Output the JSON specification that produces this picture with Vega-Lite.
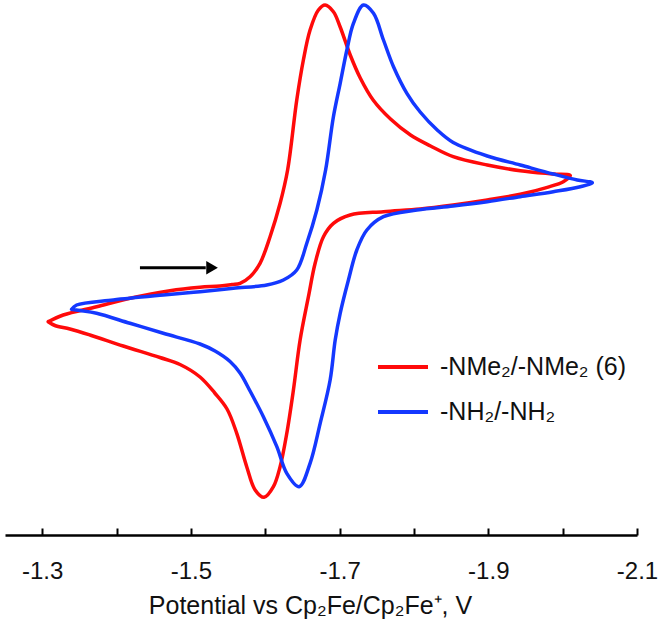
{
  "$schema": "https://vega.github.io/schema/vega-lite/v6.json",
  "width": 632,
  "height": 535,
  "autosize": {"type": "none"},
  "padding": {"left": 5, "top": 0, "right": 23, "bottom": 94},
  "background": "white",
  "config": {"view": {"stroke": null}},
  "datasets": {
    "cv": [
      {"s": "-NMe₂/-NMe₂ (6)", "i": 1, "E": -1.3081, "I": -3.17},
      {"s": "-NMe₂/-NMe₂ (6)", "i": 2, "E": -1.3283, "I": -2.5},
      {"s": "-NMe₂/-NMe₂ (6)", "i": 3, "E": -1.3732, "I": -1.67},
      {"s": "-NMe₂/-NMe₂ (6)", "i": 4, "E": -1.4181, "I": -0.83},
      {"s": "-NMe₂/-NMe₂ (6)", "i": 5, "E": -1.4719, "I": -0.07},
      {"s": "-NMe₂/-NMe₂ (6)", "i": 6, "E": -1.5123, "I": 0.27},
      {"s": "-NMe₂/-NMe₂ (6)", "i": 7, "E": -1.5392, "I": 0.4},
      {"s": "-NMe₂/-NMe₂ (6)", "i": 8, "E": -1.5554, "I": 0.55},
      {"s": "-NMe₂/-NMe₂ (6)", "i": 9, "E": -1.5661, "I": 0.67},
      {"s": "-NMe₂/-NMe₂ (6)", "i": 10, "E": -1.5796, "I": 1.33},
      {"s": "-NMe₂/-NMe₂ (6)", "i": 11, "E": -1.593, "I": 2.67},
      {"s": "-NMe₂/-NMe₂ (6)", "i": 12, "E": -1.6065, "I": 5.33},
      {"s": "-NMe₂/-NMe₂ (6)", "i": 13, "E": -1.62, "I": 8.67},
      {"s": "-NMe₂/-NMe₂ (6)", "i": 14, "E": -1.6301, "I": 12.0},
      {"s": "-NMe₂/-NMe₂ (6)", "i": 15, "E": -1.6424, "I": 19.0},
      {"s": "-NMe₂/-NMe₂ (6)", "i": 16, "E": -1.6513, "I": 23.0},
      {"s": "-NMe₂/-NMe₂ (6)", "i": 17, "E": -1.6603, "I": 26.0},
      {"s": "-NMe₂/-NMe₂ (6)", "i": 18, "E": -1.6715, "I": 28.0},
      {"s": "-NMe₂/-NMe₂ (6)", "i": 19, "E": -1.6805, "I": 28.5},
      {"s": "-NMe₂/-NMe₂ (6)", "i": 20, "E": -1.6917, "I": 27.83},
      {"s": "-NMe₂/-NMe₂ (6)", "i": 21, "E": -1.7008, "I": 26.3},
      {"s": "-NMe₂/-NMe₂ (6)", "i": 22, "E": -1.7143, "I": 23.5},
      {"s": "-NMe₂/-NMe₂ (6)", "i": 23, "E": -1.7278, "I": 21.2},
      {"s": "-NMe₂/-NMe₂ (6)", "i": 24, "E": -1.7451, "I": 19.0},
      {"s": "-NMe₂/-NMe₂ (6)", "i": 25, "E": -1.7685, "I": 17.1},
      {"s": "-NMe₂/-NMe₂ (6)", "i": 26, "E": -1.7954, "I": 15.5},
      {"s": "-NMe₂/-NMe₂ (6)", "i": 27, "E": -1.8223, "I": 14.4},
      {"s": "-NMe₂/-NMe₂ (6)", "i": 28, "E": -1.8528, "I": 13.33},
      {"s": "-NMe₂/-NMe₂ (6)", "i": 29, "E": -1.8986, "I": 12.5},
      {"s": "-NMe₂/-NMe₂ (6)", "i": 30, "E": -1.943, "I": 11.93},
      {"s": "-NMe₂/-NMe₂ (6)", "i": 31, "E": -1.9874, "I": 11.6},
      {"s": "-NMe₂/-NMe₂ (6)", "i": 32, "E": -2.0103, "I": 11.45},
      {"s": "-NMe₂/-NMe₂ (6)", "i": 33, "E": -2.0009, "I": 10.83},
      {"s": "-NMe₂/-NMe₂ (6)", "i": 34, "E": -1.9794, "I": 10.27},
      {"s": "-NMe₂/-NMe₂ (6)", "i": 35, "E": -1.943, "I": 9.57},
      {"s": "-NMe₂/-NMe₂ (6)", "i": 36, "E": -1.8986, "I": 9.0},
      {"s": "-NMe₂/-NMe₂ (6)", "i": 37, "E": -1.8528, "I": 8.5},
      {"s": "-NMe₂/-NMe₂ (6)", "i": 38, "E": -1.8084, "I": 8.1},
      {"s": "-NMe₂/-NMe₂ (6)", "i": 39, "E": -1.759, "I": 7.83},
      {"s": "-NMe₂/-NMe₂ (6)", "i": 40, "E": -1.7142, "I": 7.5},
      {"s": "-NMe₂/-NMe₂ (6)", "i": 41, "E": -1.6917, "I": 6.67},
      {"s": "-NMe₂/-NMe₂ (6)", "i": 42, "E": -1.6783, "I": 5.33},
      {"s": "-NMe₂/-NMe₂ (6)", "i": 43, "E": -1.6671, "I": 2.67},
      {"s": "-NMe₂/-NMe₂ (6)", "i": 44, "E": -1.6581, "I": -0.67},
      {"s": "-NMe₂/-NMe₂ (6)", "i": 45, "E": -1.6469, "I": -5.0},
      {"s": "-NMe₂/-NMe₂ (6)", "i": 46, "E": -1.6379, "I": -10.0},
      {"s": "-NMe₂/-NMe₂ (6)", "i": 47, "E": -1.629, "I": -14.33},
      {"s": "-NMe₂/-NMe₂ (6)", "i": 48, "E": -1.62, "I": -17.67},
      {"s": "-NMe₂/-NMe₂ (6)", "i": 49, "E": -1.611, "I": -19.67},
      {"s": "-NMe₂/-NMe₂ (6)", "i": 50, "E": -1.5985, "I": -20.73},
      {"s": "-NMe₂/-NMe₂ (6)", "i": 51, "E": -1.5864, "I": -20.0},
      {"s": "-NMe₂/-NMe₂ (6)", "i": 52, "E": -1.5751, "I": -17.67},
      {"s": "-NMe₂/-NMe₂ (6)", "i": 53, "E": -1.5617, "I": -14.33},
      {"s": "-NMe₂/-NMe₂ (6)", "i": 54, "E": -1.5486, "I": -11.9},
      {"s": "-NMe₂/-NMe₂ (6)", "i": 55, "E": -1.5321, "I": -10.3},
      {"s": "-NMe₂/-NMe₂ (6)", "i": 56, "E": -1.5123, "I": -8.7},
      {"s": "-NMe₂/-NMe₂ (6)", "i": 57, "E": -1.4854, "I": -7.45},
      {"s": "-NMe₂/-NMe₂ (6)", "i": 58, "E": -1.4584, "I": -6.75},
      {"s": "-NMe₂/-NMe₂ (6)", "i": 59, "E": -1.409, "I": -5.6},
      {"s": "-NMe₂/-NMe₂ (6)", "i": 60, "E": -1.3642, "I": -4.5},
      {"s": "-NMe₂/-NMe₂ (6)", "i": 61, "E": -1.3373, "I": -3.9},
      {"s": "-NMe₂/-NMe₂ (6)", "i": 62, "E": -1.3171, "I": -3.55},
      {"s": "-NMe₂/-NMe₂ (6)", "i": 63, "E": -1.3081, "I": -3.17},
      {"s": "-NH₂/-NH₂", "i": 1, "E": -1.3396, "I": -1.93},
      {"s": "-NH₂/-NH₂", "i": 2, "E": -1.3463, "I": -1.5},
      {"s": "-NH₂/-NH₂", "i": 3, "E": -1.3956, "I": -1.0},
      {"s": "-NH₂/-NH₂", "i": 4, "E": -1.4629, "I": -0.5},
      {"s": "-NH₂/-NH₂", "i": 5, "E": -1.5123, "I": -0.17},
      {"s": "-NH₂/-NH₂", "i": 6, "E": -1.5571, "I": 0.17},
      {"s": "-NH₂/-NH₂", "i": 7, "E": -1.6021, "I": 0.5},
      {"s": "-NH₂/-NH₂", "i": 8, "E": -1.6244, "I": 1.0},
      {"s": "-NH₂/-NH₂", "i": 9, "E": -1.6424, "I": 2.0},
      {"s": "-NH₂/-NH₂", "i": 10, "E": -1.6559, "I": 4.67},
      {"s": "-NH₂/-NH₂", "i": 11, "E": -1.6694, "I": 8.0},
      {"s": "-NH₂/-NH₂", "i": 12, "E": -1.6812, "I": 12.0},
      {"s": "-NH₂/-NH₂", "i": 13, "E": -1.6917, "I": 17.33},
      {"s": "-NH₂/-NH₂", "i": 14, "E": -1.7008, "I": 20.67},
      {"s": "-NH₂/-NH₂", "i": 15, "E": -1.7098, "I": 24.0},
      {"s": "-NH₂/-NH₂", "i": 16, "E": -1.7186, "I": 26.67},
      {"s": "-NH₂/-NH₂", "i": 17, "E": -1.7321, "I": 28.5},
      {"s": "-NH₂/-NH₂", "i": 18, "E": -1.7456, "I": 27.67},
      {"s": "-NH₂/-NH₂", "i": 19, "E": -1.759, "I": 25.0},
      {"s": "-NH₂/-NH₂", "i": 20, "E": -1.7725, "I": 22.33},
      {"s": "-NH₂/-NH₂", "i": 21, "E": -1.7905, "I": 19.67},
      {"s": "-NH₂/-NH₂", "i": 22, "E": -1.8084, "I": 17.8},
      {"s": "-NH₂/-NH₂", "i": 23, "E": -1.8313, "I": 16.0},
      {"s": "-NH₂/-NH₂", "i": 24, "E": -1.8528, "I": 14.75},
      {"s": "-NH₂/-NH₂", "i": 25, "E": -1.8986, "I": 13.4},
      {"s": "-NH₂/-NH₂", "i": 26, "E": -1.943, "I": 12.5},
      {"s": "-NH₂/-NH₂", "i": 27, "E": -1.9874, "I": 11.6},
      {"s": "-NH₂/-NH₂", "i": 28, "E": -2.0197, "I": 11.0},
      {"s": "-NH₂/-NH₂", "i": 29, "E": -2.0399, "I": 10.73},
      {"s": "-NH₂/-NH₂", "i": 30, "E": -2.0238, "I": 10.33},
      {"s": "-NH₂/-NH₂", "i": 31, "E": -1.9874, "I": 9.83},
      {"s": "-NH₂/-NH₂", "i": 32, "E": -1.943, "I": 9.33},
      {"s": "-NH₂/-NH₂", "i": 33, "E": -1.8986, "I": 8.83},
      {"s": "-NH₂/-NH₂", "i": 34, "E": -1.8528, "I": 8.4},
      {"s": "-NH₂/-NH₂", "i": 35, "E": -1.804, "I": 8.0},
      {"s": "-NH₂/-NH₂", "i": 36, "E": -1.759, "I": 7.33},
      {"s": "-NH₂/-NH₂", "i": 37, "E": -1.7367, "I": 6.0},
      {"s": "-NH₂/-NH₂", "i": 38, "E": -1.7232, "I": 4.0},
      {"s": "-NH₂/-NH₂", "i": 39, "E": -1.7119, "I": 1.0},
      {"s": "-NH₂/-NH₂", "i": 40, "E": -1.7008, "I": -2.33},
      {"s": "-NH₂/-NH₂", "i": 41, "E": -1.6941, "I": -5.0},
      {"s": "-NH₂/-NH₂", "i": 42, "E": -1.6873, "I": -9.0},
      {"s": "-NH₂/-NH₂", "i": 43, "E": -1.6739, "I": -13.33},
      {"s": "-NH₂/-NH₂", "i": 44, "E": -1.6603, "I": -17.33},
      {"s": "-NH₂/-NH₂", "i": 45, "E": -1.6456, "I": -19.67},
      {"s": "-NH₂/-NH₂", "i": 46, "E": -1.629, "I": -18.33},
      {"s": "-NH₂/-NH₂", "i": 47, "E": -1.6156, "I": -15.67},
      {"s": "-NH₂/-NH₂", "i": 48, "E": -1.5975, "I": -12.67},
      {"s": "-NH₂/-NH₂", "i": 49, "E": -1.5796, "I": -10.1},
      {"s": "-NH₂/-NH₂", "i": 50, "E": -1.5661, "I": -8.3},
      {"s": "-NH₂/-NH₂", "i": 51, "E": -1.5527, "I": -7.15},
      {"s": "-NH₂/-NH₂", "i": 52, "E": -1.5325, "I": -6.1},
      {"s": "-NH₂/-NH₂", "i": 53, "E": -1.5123, "I": -5.4},
      {"s": "-NH₂/-NH₂", "i": 54, "E": -1.4629, "I": -4.33},
      {"s": "-NH₂/-NH₂", "i": 55, "E": -1.4181, "I": -3.33},
      {"s": "-NH₂/-NH₂", "i": 56, "E": -1.3732, "I": -2.33},
      {"s": "-NH₂/-NH₂", "i": 57, "E": -1.3507, "I": -2.05},
      {"s": "-NH₂/-NH₂", "i": 58, "E": -1.3396, "I": -1.93}
    ]
  },
  "layer": [
    {
      "data": {"name": "cv"},
      "mark": {"type": "line", "strokeWidth": 3.5, "interpolate": "catmull-rom", "strokeCap": "round", "strokeJoin": "round"},
      "encoding": {
        "x": {
          "field": "E", "type": "quantitative",
          "scale": {"domain": [-2.1, -1.25], "reverse": true, "nice": false, "zero": false},
          "axis": {
            "title": "Potential vs Cp₂Fe/Cp₂Fe⁺, V",
            "titleX": 305,
            "values": [-1.3, -1.4, -1.5, -1.6, -1.7, -1.8, -1.9, -2.0, -2.1],
            "labelExpr": "round(datum.value*10) % 2 == 0 ? '' : replace(format(datum.value, '.1f'), '−', '-')",
            "labelFont": "Liberation Sans",
            "labelFontSize": 24,
            "labelColor": "#111111",
            "labelPadding": 31,
            "labelOverlap": false,
            "labelFlush": false,
            "domainColor": "#000000",
            "domainWidth": 2.5,
            "tickColor": "#000000",
            "tickWidth": 2,
            "tickSize": -7,
            "grid": false,
            "titleFont": "Liberation Sans",
            "titleFontSize": 25,
            "titleFontWeight": "normal",
            "titleColor": "#111111",
            "titlePadding": 10
          }
        },
        "y": {
          "field": "I", "type": "quantitative",
          "scale": {"domain": [-24.5, 29], "nice": false, "zero": false},
          "axis": null
        },
        "order": {"field": "i", "type": "quantitative"},
        "detail": {"field": "s"},
        "color": {
          "field": "s", "type": "nominal",
          "scale": {"domain": ["-NMe₂/-NMe₂ (6)", "-NH₂/-NH₂"], "range": ["#ff0a0a", "#1438ff"]},
          "legend": {
            "title": null,
            "orient": "none",
            "legendX": 371,
            "legendY": 340,
            "symbolType": "stroke",
            "symbolSize": 2500,
            "symbolStrokeWidth": 4,
            "labelFont": "Liberation Sans",
            "labelFontSize": 25,
            "labelColor": "#111111",
            "labelOffset": 10,
            "rowPadding": 5,
            "labelLimit": 400
          }
        }
      }
    },
    {
      "data": {"values": [{}]},
      "mark": {"type": "rule", "color": "#000000", "strokeWidth": 3},
      "encoding": {
        "x": {"datum": -1.4315},
        "x2": {"datum": -1.52},
        "y": {"datum": 2.23}
      }
    },
    {
      "data": {"values": [{}]},
      "mark": {"type": "point", "shape": "triangle-right", "filled": true, "color": "#000000", "opacity": 1, "size": 180},
      "encoding": {
        "x": {"datum": -1.5285},
        "y": {"datum": 2.23}
      }
    }
  ]
}
